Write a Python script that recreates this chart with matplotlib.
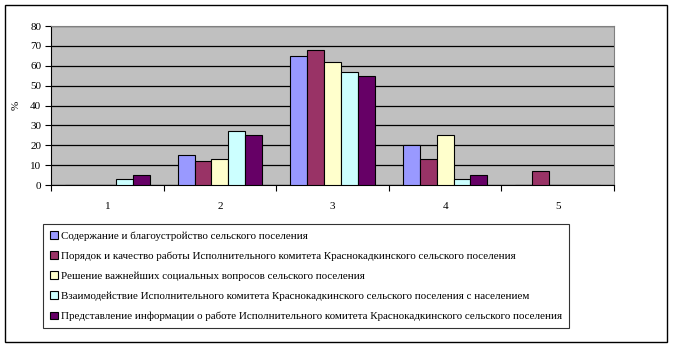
import matplotlib
matplotlib.use("Agg")
import matplotlib.pyplot as plt
from matplotlib.patches import Rectangle
import numpy as np

categories = ["1", "2", "3", "4", "5"]
series_names = [
    "Содержание и благоустройство сельского поселения",
    "Порядок и качество работы Исполнительного комитета Краснокадкинского сельского поселения",
    "Решение важнейших социальных вопросов сельского поселения",
    "Взаимодействие Исполнительного комитета Краснокадкинского сельского поселения с населением",
    "Представление информации о работе Исполнительного комитета Краснокадкинского сельского поселения",
]
s1 = [0, 15, 65, 20, 0]
s2 = [0, 12, 68, 13, 7]
s3 = [0, 13, 62, 25, 0]
s4 = [3, 27, 57, 3, 0]
s5 = [5, 25, 55, 5, 0]
series = [s1, s2, s3, s4, s5]
colors = ["#9999FF", "#993366", "#FFFFCC", "#CCFFFF", "#660066"]
yticks = [0, 10, 20, 30, 40, 50, 60, 70, 80]

plt.rcParams['font.family'] = ['Liberation Serif', 'DejaVu Serif']
W, H = 673, 349
fig = plt.figure(figsize=(W/100, H/100), dpi=100)

# outer border
fig.patches.append(Rectangle((5/W, 1-342/H), 662/W, 337/H, transform=fig.transFigure,
                             fill=False, edgecolor='black', linewidth=1.0))

left, right, top, bottom = 51, 614, 26, 185
ax = fig.add_axes([left/W, 1-bottom/H, (right-left)/W, (bottom-top)/H])
ax.set_facecolor('#C0C0C0')
x = np.arange(len(categories))
bw = 0.15
for i, (vals, c, name) in enumerate(zip(series, colors, series_names)):
    ax.bar(x + (i-2)*bw, vals, width=bw, color=c, edgecolor='black', linewidth=0.8,
           label=name, zorder=3)
ax.set_xlim(-0.5, len(categories)-0.5)
ax.set_ylim(0, 80)
ax.set_yticks(yticks)
ax.set_yticklabels([str(v) for v in yticks], fontsize=8)
ax.yaxis.grid(True, color='black', linewidth=0.9, zorder=1)
ax.set_axisbelow(True)
ax.set_xticks(np.arange(-0.5, len(categories)), minor=False)
ax.set_xticklabels([])
ax.set_xticks(x, minor=True)
ax.set_xticklabels(categories, minor=True, fontsize=8)
ax.tick_params(axis='x', which='minor', length=0, pad=12)
ax.tick_params(axis='x', which='major', length=4, direction='out', width=0.8)
ax.tick_params(axis='y', length=4, direction='out', width=0.8, pad=3)
for s in ['top', 'right']:
    ax.spines[s].set_color('#808080')
    ax.spines[s].set_linewidth(0.8)
for s in ['left', 'bottom']:
    ax.spines[s].set_color('black')
    ax.spines[s].set_linewidth(0.8)
ax.set_ylabel('%', fontsize=8, labelpad=7)

handles, labels = ax.get_legend_handles_labels()
leg = fig.legend(handles, labels, loc='upper left', bbox_to_anchor=(43/W, 1-224/H),
                 fontsize=7.9, frameon=True, fancybox=False, edgecolor='black',
                 handlelength=0.7, handleheight=0.7, handletextpad=0.3,
                 labelspacing=0.95, borderpad=0.65, borderaxespad=0)
leg.get_frame().set_linewidth(0.8)

fig.savefig('out.png', dpi=100)
